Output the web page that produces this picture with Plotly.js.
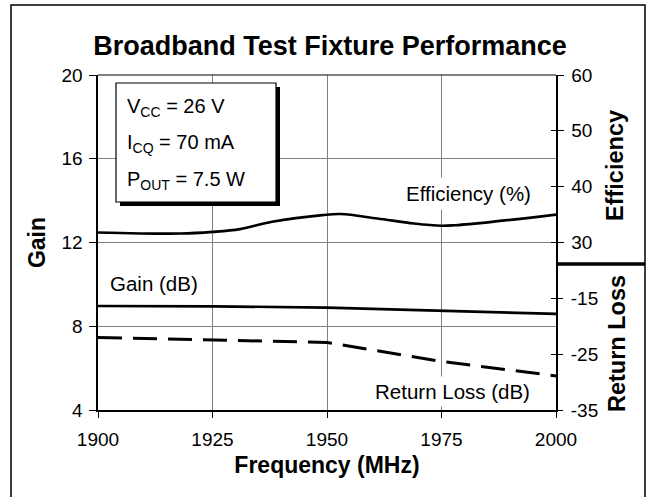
<!DOCTYPE html>
<html>
<head>
<meta charset="utf-8">
<script src="https://cdn.plot.ly/plotly-3.0.1.min.js"></script>
<style>html,body{margin:0;padding:0;background:#fff;}#chart{width:649px;height:497px;}</style>
</head>
<body>
<div id="chart"></div>
<script>
// ---- data ----
const freqTicks = [1900, 1925, 1950, 1975, 2000];
const gainTicks = [4, 8, 12, 16, 20];
const effTicks = [30, 40, 50, 60];
const rlTicks = [-35, -25, -15];
const rlTickText = ['-35', '-25', '-15'];

const freqEff = [1900, 1918, 1925, 1931, 1938, 1949, 1953, 1961, 1969, 1975, 1978, 1986, 2000];
const efficiency = [31.8, 31.6, 31.9, 32.4, 33.7, 34.9, 35.1, 34.3, 33.4, 33.0, 33.1, 33.7, 35.0];

const freqGain = [1900, 1925, 1950, 1975, 2000];
const gain = [8.97, 8.95, 8.89, 8.75, 8.59];

const freqRL = [1900, 1925, 1950, 1956, 1975, 2000];
const returnLoss = [-22.0, -22.5, -22.9, -23.7, -26.3, -28.9];

const FONT = 'Arial, "Liberation Sans", sans-serif';

const traces = [
  {x: freqEff, y: efficiency, yaxis: 'y2', mode: 'lines', name: 'Efficiency (%)',
   line: {color: '#000', width: 2.6, shape: 'spline', smoothing: 1}},
  {x: freqGain, y: gain, yaxis: 'y', mode: 'lines', name: 'Gain (dB)',
   line: {color: '#000', width: 2.6}},
  {x: freqRL, y: returnLoss, yaxis: 'y3', mode: 'lines', name: 'Return Loss (dB)',
   line: {color: '#000', width: 3, dash: '24px,11px'}},
  {x: [1900], y: [null], yaxis: 'y4', mode: 'lines', showlegend: false},
  {x: [1900], y: [null], yaxis: 'y5', mode: 'lines', showlegend: false}
];

const px = v => (v - 98) / 458;
const py = v => (410 - v) / 335;

const layout = {
  width: 649, height: 497,
  margin: {l: 98, r: 93, t: 75, b: 87},
  paper_bgcolor: '#fff', plot_bgcolor: '#fff',
  showlegend: false,
  font: {family: FONT, color: '#000', size: 19},
  title: {text: '<b>Broadband Test Fixture Performance</b>', font: {size: 27, family: FONT, color: '#000'},
          x: 330/649, xanchor: 'center', xref: 'container', y: 1 - 46/497, yanchor: 'middle', yref: 'container'},
  xaxis: {range: [1900, 2000], tickvals: freqTicks, ticks: 'outside', ticklen: 6, tickcolor: '#000', tickwidth: 1,
          showline: true, linecolor: '#000', linewidth: 2, showgrid: true, gridcolor: '#808080', gridwidth: 1,
          zeroline: false, tickfont: {size: 19}, ticklabelstandoff: 5,
          title: {text: '<b>Frequency (MHz)</b>', font: {size: 23}, standoff: 8}},
  yaxis: {range: [4, 20], tickvals: gainTicks, ticks: 'outside', ticklen: 7, tickcolor: '#000', tickwidth: 1,
          showline: true, linecolor: '#000', linewidth: 2.5, showgrid: true, gridcolor: '#808080', gridwidth: 1,
          zeroline: false, tickfont: {size: 19}, ticklabelstandoff: 2,
          title: {text: '<b>Gain</b>', font: {size: 23}, standoff: 10}},
  yaxis2: {overlaying: 'y', side: 'right', range: [0, 60], tickvals: effTicks, ticks: 'outside', ticklen: 6,
           tickcolor: '#000', showline: true, linecolor: '#000', linewidth: 1.5, showgrid: false, zeroline: false,
           tickfont: {size: 19}, ticklabelstandoff: 4},
  yaxis3: {overlaying: 'y', side: 'right', range: [-35, 25], tickvals: rlTicks, ticktext: rlTickText,
           ticks: 'outside', ticklen: 6, tickcolor: '#000', showline: false, showgrid: false, zeroline: false,
           tickfont: {size: 19}, ticklabelstandoff: 4},
  yaxis4: {overlaying: 'y', side: 'right', range: [0, 60], tickvals: effTicks, ticks: 'inside', ticklen: 5,
           tickcolor: '#000', showticklabels: false, showline: false, showgrid: false, zeroline: false},
  yaxis5: {overlaying: 'y', side: 'right', range: [-35, 25], tickvals: rlTicks, ticks: 'inside', ticklen: 5,
           tickcolor: '#000', showticklabels: false, showline: false, showgrid: false, zeroline: false},
  shapes: [
    // outer figure frame
    {type: 'rect', xref: 'paper', yref: 'paper', x0: px(11), x1: px(645), y0: py(520), y1: py(5),
     line: {color: '#000', width: 1.5}, fillcolor: 'rgba(0,0,0,0)', layer: 'above'},
    // top edge of plot area
    {type: 'line', xref: 'paper', yref: 'paper', x0: 0, x1: 1, y0: 1, y1: 1, line: {color: '#000', width: 1}, layer: 'above'},
    // separator between right axes
    {type: 'line', xref: 'paper', yref: 'paper', x0: px(557), x1: px(645), y0: py(264), y1: py(264),
     line: {color: '#000', width: 3.5}, layer: 'above'},
    // text box shadow + box
    {type: 'rect', xref: 'paper', yref: 'paper', x0: px(120), x1: px(280), y0: py(206), y1: py(87),
     line: {width: 0}, fillcolor: '#000', layer: 'above'},
    {type: 'rect', xref: 'paper', yref: 'paper', x0: px(116), x1: px(276), y0: py(202), y1: py(83),
     line: {color: '#000', width: 1.2}, fillcolor: '#fff', layer: 'above'}
  ],
  annotations: [
    {text: 'V<sub>CC</sub> = 26 V', xref: 'paper', yref: 'paper', x: px(125), y: py(107), xanchor: 'left', yanchor: 'middle', showarrow: false, font: {size: 20}},
    {text: 'I<sub>CQ</sub> = 70 mA', xref: 'paper', yref: 'paper', x: px(125), y: py(143), xanchor: 'left', yanchor: 'middle', showarrow: false, font: {size: 20}},
    {text: 'P<sub>OUT</sub> = 7.5 W', xref: 'paper', yref: 'paper', x: px(125), y: py(180), xanchor: 'left', yanchor: 'middle', showarrow: false, font: {size: 20}},
    {text: 'Efficiency (%)', xref: 'paper', yref: 'paper', x: px(401), y: py(193), xanchor: 'left', yanchor: 'middle', showarrow: false, font: {size: 20.5}, bgcolor: '#fff', borderpad: 4},
    {text: 'Gain (dB)', xref: 'paper', yref: 'paper', x: px(108), y: py(283), xanchor: 'left', yanchor: 'middle', showarrow: false, font: {size: 20.5}},
    {text: 'Return Loss (dB)', xref: 'paper', yref: 'paper', x: px(371), y: py(391), xanchor: 'left', yanchor: 'middle', showarrow: false, font: {size: 20.5}, bgcolor: '#fff', borderpad: 3},
    {text: '<b>Efficiency</b>', xref: 'paper', yref: 'paper', x: px(615), y: py(166), xanchor: 'center', yanchor: 'middle', textangle: -90, showarrow: false, font: {size: 23.5}},
    {text: '<b>Return Loss</b>', xref: 'paper', yref: 'paper', x: px(617), y: py(344), xanchor: 'center', yanchor: 'middle', textangle: -90, showarrow: false, font: {size: 23.5}}
  ]
};

Plotly.newPlot('chart', traces, layout, {staticPlot: true, displayModeBar: false});
</script>
</body>
</html>
